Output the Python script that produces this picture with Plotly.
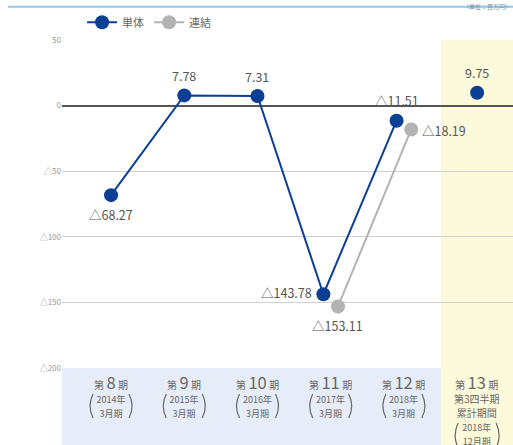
import plotly.graph_objects as go

periods = ["8", "9", "10", "11", "12", "13"]
years = ["2014年", "2015年", "2016年", "2017年", "2018年", "2018年"]
months = ["3月期", "3月期", "3月期", "3月期", "3月期", "12月期"]
single = [-68.27, 7.78, 7.31, -143.78, -11.51, 9.75]
consol_idx = [3, 4]
consol = [-153.11, -18.19]
single_lbl = ["△68.27", "7.78", "7.31", "△143.78", "△11.51", "9.75"]
consol_lbl = ["△153.11", "△18.19"]
yticks = [50, 0, -50, -100, -150, -200]
ytick_text = ["50", "0", "△50", "△100", "△150", "△200"]

BLUE = "#0b3f94"
GRAY = "#b3b3b3"
TXT = "#666666"
FONT = "Noto Sans CJK JP"
LBL = dict(size=12.5, color="#555555")

# x positions: blue shifted left where consolidated exists
sx = [i - 0.1 if i in consol_idx else i for i in range(len(single))]
cx = [i + 0.1 for i in consol_idx]

fig = go.Figure()
fig.add_trace(go.Scatter(
    x=sx[:5], y=single[:5], mode="lines+markers", name="単体",
    line=dict(color=BLUE, width=2), marker=dict(color=BLUE, size=14),
    hoverinfo="skip"))
fig.add_trace(go.Scatter(
    x=cx, y=consol, mode="lines+markers", name="連結",
    line=dict(color=GRAY, width=2), marker=dict(color=GRAY, size=14),
    hoverinfo="skip"))
fig.add_trace(go.Scatter(
    x=sx[5:], y=single[5:], mode="markers", showlegend=False,
    marker=dict(color=BLUE, size=14), hoverinfo="skip"))

# data labels
pos = ["below", "above", "above", "left", "above", "above"]
for i, (v, t) in enumerate(zip(single, single_lbl)):
    p = pos[i]
    if p == "above":
        fig.add_annotation(x=sx[i], y=v, text=t, showarrow=False, yshift=20, font=LBL)
    elif p == "below":
        fig.add_annotation(x=sx[i], y=v, text=t, showarrow=False, yshift=-19, font=LBL)
    else:
        fig.add_annotation(x=sx[i], y=v, text=t, showarrow=False, xanchor="right",
                           xshift=-9, yshift=2, font=LBL)
fig.add_annotation(x=cx[0], y=consol[0], text=consol_lbl[0], showarrow=False,
                   yshift=-19, xshift=-1, font=LBL)
fig.add_annotation(x=cx[1], y=consol[1], text=consol_lbl[1], showarrow=False,
                   xanchor="left", xshift=9, yshift=-1, font=LBL)


def paren(i, top, bottom, half):
    mid = (top + bottom) / 2
    for sgn in (-1, 1):
        xe = sgn * half
        xm = sgn * (half + 6)
        fig.add_shape(type="path", xref="x", yref="paper", xsizemode="pixel",
                      ysizemode="pixel", xanchor=i, yanchor=0,
                      path=f"M {xe},{-top} Q {xm},{-mid} {xe},{-bottom}",
                      line=dict(color=TXT, width=1.2))


def sp(t, s):
    return f"<span style='font-size:{s}px'>{t}</span>"


# x category labels
for i, p in enumerate(periods):
    head = f"{sp('第', 10)} {sp(p, 16.5)} {sp('期', 10)}"
    if i < 5:
        txt = f"{head}<br>{sp(years[i], 9)}<br>{sp(months[i], 9)}"
        fig.add_annotation(x=i, y=0, yref="paper", yanchor="top", yshift=-1,
                           text=txt, showarrow=False, borderpad=0,
                           font=dict(size=10.8, color=TXT))
        paren(i, 26, 50, 18)
    else:
        txt = (f"{head}<br>{sp('第3四半期', 10)}<br>{sp('累計期間', 10)}"
               f"<br>{sp(years[i], 9)}<br>{sp(months[i], 9)}")
        fig.add_annotation(x=i, y=0, yref="paper", yanchor="top", yshift=-1,
                           text=txt, showarrow=False, borderpad=0,
                           font=dict(size=10.8, color=TXT))
        paren(i, 55, 80, 19)

# background bands
fig.add_shape(type="rect", xref="paper", yref="paper", x0=0, x1=0.84, y0=-0.25, y1=0,
              fillcolor="#e7edf8", line_width=0, layer="below")
fig.add_shape(type="rect", xref="paper", yref="paper", x0=0.84, x1=1.0, y0=-0.25, y1=1,
              fillcolor="#fdfadb", line_width=0, layer="below")
# top rule
fig.add_shape(type="line", xref="paper", yref="paper", x0=-0.12, x1=1.0, y0=1.101, y1=1.101,
              line=dict(color="#8fc8ea", width=2))
fig.add_annotation(xref="paper", yref="paper", x=1.0, y=1.121, xanchor="right", yanchor="top",
                   text="（単位：百万円）", showarrow=False, font=dict(size=6, color="#888888"))

fig.update_layout(
    width=513, height=445,
    margin=dict(l=62, r=0, t=40, b=77, autoexpand=False),
    paper_bgcolor="white", plot_bgcolor="rgba(0,0,0,0)",
    font=dict(family=FONT, size=11, color="#555555"),
    showlegend=True,
    legend=dict(orientation="h", xref="container", yref="container",
                x=0.16, y=0.95, xanchor="left", yanchor="middle",
                font=dict(size=11, color=TXT), bgcolor="rgba(0,0,0,0)",
                itemwidth=30, tracegroupgap=0),
    xaxis=dict(range=[-0.67, 5.49], showticklabels=False, showgrid=False, zeroline=False,
               fixedrange=True, automargin=False),
    yaxis=dict(range=[-200, 50], tickvals=yticks, ticktext=ytick_text,
               showgrid=True, gridcolor="#d0d0d0", gridwidth=1,
               zeroline=True, zerolinecolor="#555555", zerolinewidth=1.5,
               tickfont=dict(size=8, color="#999999"), ticks="", ticklen=0,
               fixedrange=True, automargin=False),
)

fig.write_html("out.html", config={"displayModeBar": False},
               post_script="document.body.style.margin='0';document.body.style.overflow='hidden';")
